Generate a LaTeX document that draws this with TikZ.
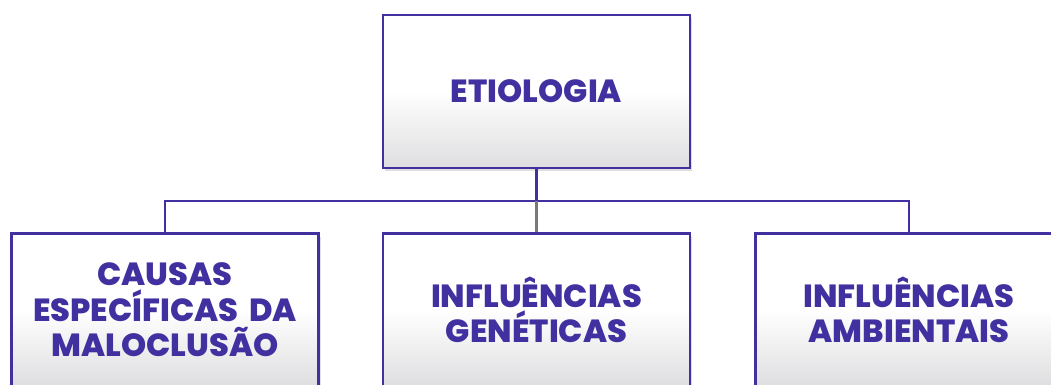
\documentclass[tikz,border=0pt]{standalone}
\usepackage{fontspec}
\setmainfont{Poppins}[BoldFont={Poppins ExtraBold}]
\usetikzlibrary{shadows}
\definecolor{pur}{RGB}{64,48,160}
\definecolor{boxgray}{RGB}{222,222,224}
\definecolor{midline}{RGB}{120,120,120}
\tikzset{
  box/.style={draw=pur, line width=2.2pt, minimum width=307pt, minimum height=153pt,
    text width=295pt, align=center, inner sep=0pt,
    font=\bfseries\fontsize{32}{35.5}\selectfont, text=pur,
    top color=white, bottom color=boxgray, middle color=white,
    drop shadow={opacity=0.25, shadow xshift=2pt, shadow yshift=-3pt}},
  conn/.style={draw=pur, line width=2.2pt},
  connmid/.style={draw=midline, line width=2.2pt}
}
\begin{document}
\begin{tikzpicture}[x=1pt,y=-1pt]
\useasboundingbox (0,0) rectangle (1051,385);
\clip (0,0) rectangle (1051,385);
\node[box] (top) at (536.5,91.5) {ETIOLOGIA};
\node[box] (c1) at (165,310) {CAUSAS\\ESPECÍFICAS DA\\MALOCLUSÃO};
\node[box] (c2) at (536.5,310) {INFLUÊNCIAS\\GENÉTICAS};
\node[box] (c3) at (909,310) {INFLUÊNCIAS\\AMBIENTAIS};
\coordinate (bar) at (536.5,201);
\draw[conn] (top.south) -- (bar);
\draw[conn] (c1.north) |- (bar) -| (c3.north);
\draw[connmid] (bar) -- (c2.north);
\end{tikzpicture}
\end{document}
